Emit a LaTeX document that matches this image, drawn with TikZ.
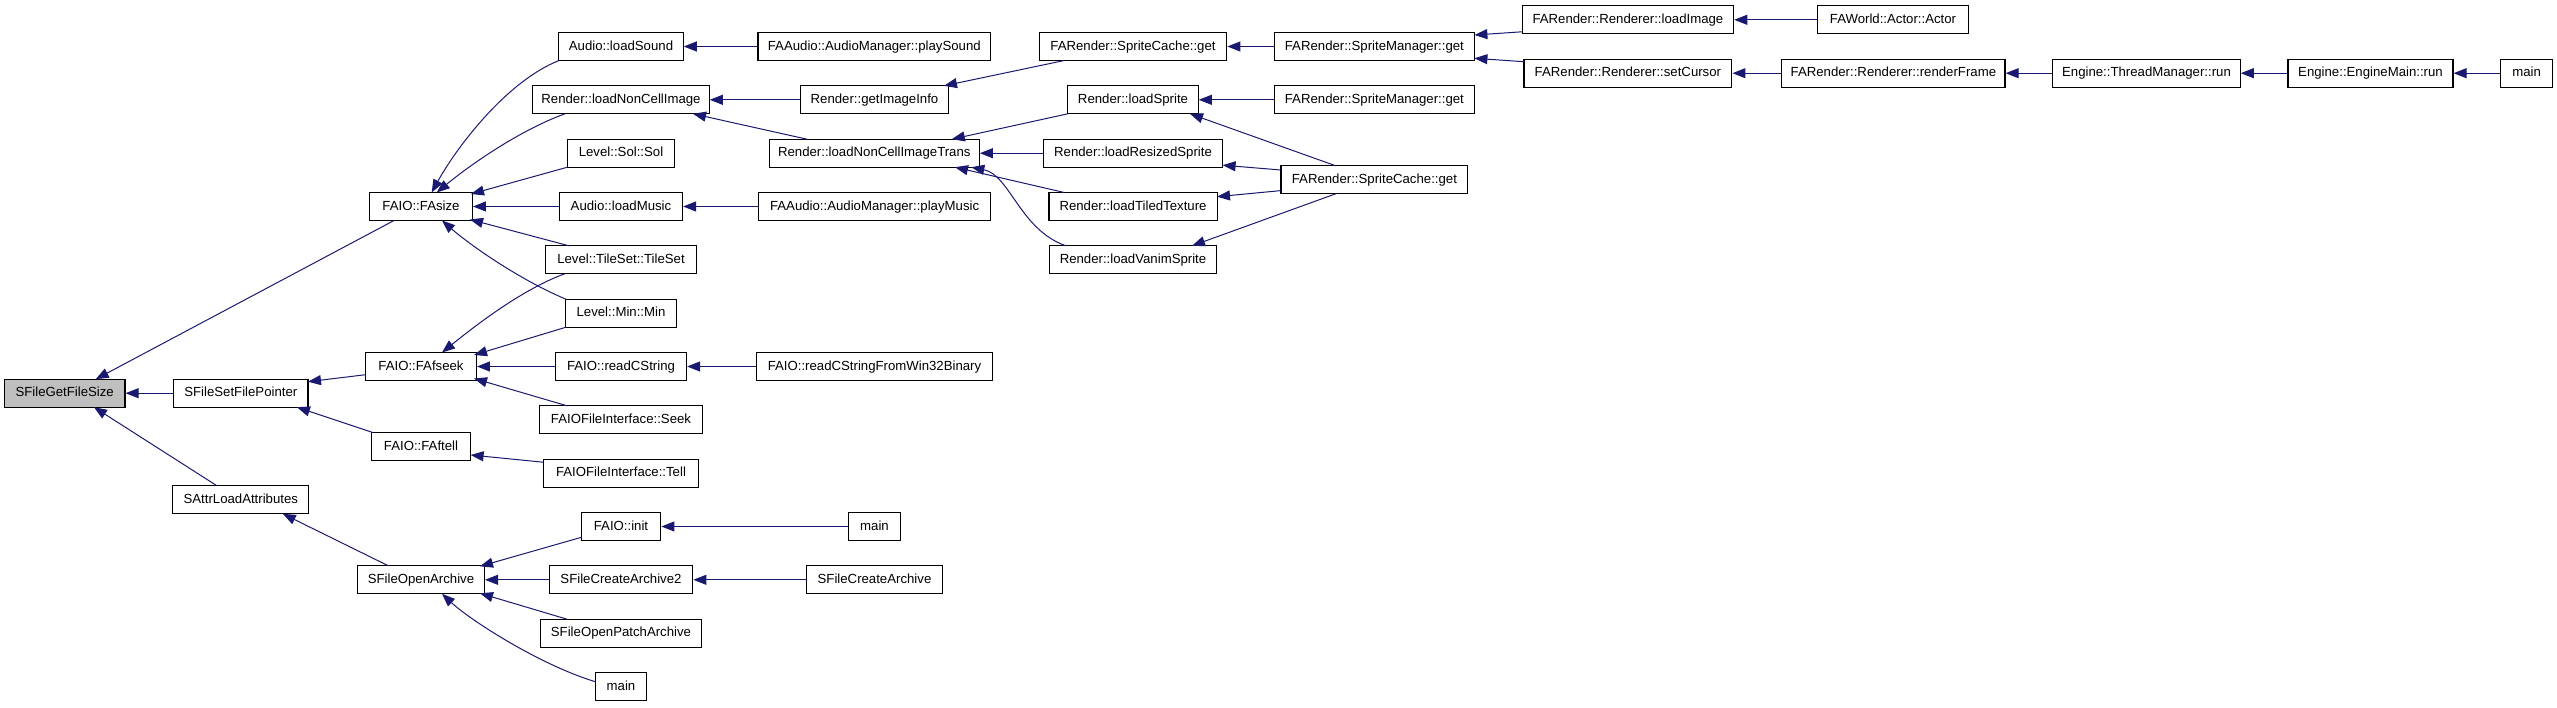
\documentclass[tikz,border=0pt]{standalone}
\usepackage{fontspec}
\setmainfont{Liberation Sans}
\usetikzlibrary{calc,arrows.meta}
\definecolor{edgeblue}{HTML}{191970}
\definecolor{fillgray}{HTML}{BFBFBF}
\begin{document}
\begin{tikzpicture}[x=1pt,y=-1pt,
  fn/.style={draw=black, line width=1.2pt, rectangle, minimum height=28pt, inner sep=0pt,
    text height=9.3pt, text depth=2pt, font=\fontsize{13.2}{15}\selectfont, fill=white},
  ed/.style={draw=edgeblue, line width=1pt, -{Triangle[length=13pt,width=10pt]}, fill=none}]
\useasboundingbox (0,0) rectangle (2557,707);
% column 1-2
\node[fn, fill=fillgray, minimum width=120.5] (gfs) at (64.7,393.2) {SFileGetFileSize};
\node[fn, minimum width=134.3] (sfp) at (240.8,393.2) {SFileSetFilePointer};
\node[fn, minimum width=136] (sla) at (240.8,499.8) {SAttrLoadAttributes};
% column 3
\node[fn, minimum width=102.7] (fasize) at (421,206.5) {FAIO::FAsize};
\node[fn, minimum width=110.7] (fafseek) at (421,366.5) {FAIO::FAfseek};
\node[fn, minimum width=99.6] (faftell) at (421,446.5) {FAIO::FAftell};
\node[fn, minimum width=126.8] (soa) at (421,579.8) {SFileOpenArchive};
% column 4
\node[fn, minimum width=124.3] (als) at (621,46.5) {Audio::loadSound};
\node[fn, minimum width=176.4] (rlnci) at (621,99.8) {Render::loadNonCellImage};
\node[fn, minimum width=107] (sol) at (621,153.2) {Level::Sol::Sol};
\node[fn, minimum width=123] (alm) at (621,206.5) {Audio::loadMusic};
\node[fn, minimum width=151] (tileset) at (621,259.8) {Level::TileSet::TileSet};
\node[fn, minimum width=111] (min) at (621,313.2) {Level::Min::Min};
\node[fn, minimum width=131] (rcs) at (621,366.5) {FAIO::readCString};
\node[fn, minimum width=163.6] (seek) at (621,419.8) {FAIOFileInterface::Seek};
\node[fn, minimum width=155.4] (tell) at (621,473.2) {FAIOFileInterface::Tell};
\node[fn, minimum width=79.6] (init) at (621,526.5) {FAIO::init};
\node[fn, minimum width=143.6] (sca2) at (621,579.8) {SFileCreateArchive2};
\node[fn, minimum width=161.7] (sopa) at (621,633.2) {SFileOpenPatchArchive};
\node[fn, minimum width=51.4] (main1) at (621,686.5) {main};
% column 5
\node[fn, minimum width=232.8] (playsound) at (874.3,46.5) {FAAudio::AudioManager::playSound};
\node[fn, minimum width=148.2] (gii) at (874.5,99.8) {Render::getImageInfo};
\node[fn, minimum width=210] (rlncit) at (874.3,153.2) {Render::loadNonCellImageTrans};
\node[fn, minimum width=231.5] (playmusic) at (874.6,206.5) {FAAudio::AudioManager::playMusic};
\node[fn, minimum width=235.3] (rcsw) at (874.5,366.5) {FAIO::readCStringFromWin32Binary};
\node[fn, minimum width=51.8] (main2) at (874.5,526.5) {main};
\node[fn, minimum width=135.3] (sca) at (874.5,579.8) {SFileCreateArchive};
% column 6
\node[fn, minimum width=187.5] (scget1) at (1133,46.5) {FARender::SpriteCache::get};
\node[fn, minimum width=130.3] (lsprite) at (1133,99.8) {Render::loadSprite};
\node[fn, minimum width=179.3] (lrs) at (1133,153.2) {Render::loadResizedSprite};
\node[fn, minimum width=168.2] (ltt) at (1133,206.5) {Render::loadTiledTexture};
\node[fn, minimum width=167.5] (lvs) at (1133,259.8) {Render::loadVanimSprite};
% column 7
\node[fn, minimum width=199.7] (smget1) at (1374.4,46.5) {FARender::SpriteManager::get};
\node[fn, minimum width=199.7] (smget2) at (1374.4,99.8) {FARender::SpriteManager::get};
\node[fn, minimum width=186.9] (scget2) at (1374.4,179.8) {FARender::SpriteCache::get};
% column 8+
\node[fn, minimum width=211.5] (loadimage) at (1627.9,19.8) {FARender::Renderer::loadImage};
\node[fn, minimum width=207.9] (setcursor) at (1627.9,73.2) {FARender::Renderer::setCursor};
\node[fn, minimum width=151.4] (actor) at (1893,19.8) {FAWorld::Actor::Actor};
\node[fn, minimum width=223.2] (renderframe) at (1893.4,73.2) {FARender::Renderer::renderFrame};
\node[fn, minimum width=187.3] (tmrun) at (2146.5,73.2) {Engine::ThreadManager::run};
\node[fn, minimum width=164.9] (emrun) at (2370.5,73.2) {Engine::EngineMain::run};
\node[fn, minimum width=51.9] (main3) at (2526.6,73.2) {main};

% edges
\draw[ed] (sfp.west) -- (gfs.east);
\draw[ed] ($(fasize)+(-27,14)$) -- ($(gfs)+(31,-14)$);
\draw[ed] ($(sla)+(-23.8,-14)$) -- ($(gfs)+(29.3,14)$);
\draw[ed] ($(fafseek)+(-55.4,8.2)$) -- ($(sfp)+(67.2,-11.5)$);
\draw[ed] ($(faftell)+(-48.2,-14)$) -- ($(sfp)+(56.1,14)$);
\draw[ed] ($(als)+(-62,14)$) .. controls ($(als)+(-116,35.5)$) and ($(fasize)+(34,-56.5)$) .. ($(fasize)+(10.7,-14)$);
\draw[ed] ($(rlnci)+(-56,14)$) .. controls ($(rlnci)+(-101,30.2)$) and ($(fasize)+(49,-41.5)$) .. ($(fasize)+(15.7,-14)$);
\draw[ed] ($(sol)+(-53.6,14)$) -- ($(fasize)+(50,-12.5)$);
\draw[ed] (alm.west) -- (fasize.east);
\draw[ed] ($(tileset)+(-52,-14)$) -- ($(fasize)+(49,13)$);
\draw[ed] ($(min)+(-55,-14)$) .. controls ($(min)+(-101,-33.2)$) and ($(fasize)+(49,38.5)$) .. ($(fasize)+(21,14)$);
\draw[ed] ($(tileset)+(-56.3,14)$) .. controls ($(tileset)+(-101,30.2)$) and ($(fafseek)+(49,-36.5)$) .. ($(fafseek)+(21,-14)$);
\draw[ed] ($(min)+(-55,14)$) -- ($(fafseek)+(53,-11.5)$);
\draw[ed] (rcs.west) -- (fafseek.east);
\draw[ed] ($(seek)+(-54,-14)$) -- ($(fafseek)+(53,12)$);
\draw[ed] ($(tell)+(-77.7,-11)$) -- ($(faftell)+(49.6,8.5)$);
\draw[ed] ($(soa)+(-32.6,-14)$) -- ($(sla)+(42,14)$);
\draw[ed] ($(init)+(-39.6,10.8)$) -- ($(soa)+(59,-13.5)$);
\draw[ed] (sca2.west) -- (soa.east);
\draw[ed] ($(sopa)+(-54,-14)$) -- ($(soa)+(59,13.5)$);
\draw[ed] ($(main1)+(-25.7,-4.8)$) .. controls ($(main1)+(-81,-21.5)$) and ($(soa)+(49,40.2)$) .. ($(soa)+(21,14)$);
\draw[ed] (playsound.west) -- (als.east);
\draw[ed] (gii.west) -- (rlnci.east);
\draw[ed] ($(rlncit)+(-67.3,-14)$) -- ($(rlnci)+(72,14)$);
\draw[ed] (playmusic.west) -- (alm.east);
\draw[ed] (rcsw.west) -- (rcs.east);
\draw[ed] (main2.west) -- (init.east);
\draw[ed] (sca.west) -- (sca2.east);
\draw[ed] ($(scget1)+(-68.7,14)$) -- ($(gii)+(69.5,-14)$);
\draw[ed] ($(lsprite)+(-65.2,14)$) -- ($(rlncit)+(77.5,-14)$);
\draw[ed] (lrs.west) -- (rlncit.east);
\draw[ed] ($(ltt)+(-68.7,-14)$) -- ($(rlncit)+(80.7,14)$);
\draw[ed] ($(lvs)+(-67,-14)$) .. controls ($(lvs)+(-113,-29.8)$) and ($(rlncit)+(135.7,21.8)$) .. ($(rlncit)+(97,14)$);
\draw[ed] (smget1.west) -- (scget1.east);
\draw[ed] (smget2.west) -- (lsprite.east);
\draw[ed] ($(scget2)+(-38.7,-14)$) -- ($(lsprite)+(57,14)$);
\draw[ed] ($(scget2)+(-93.4,-9.8)$) -- ($(lrs)+(89.6,12)$);
\draw[ed] ($(scget2)+(-93.4,10.8)$) -- ($(ltt)+(84,-9.8)$);
\draw[ed] ($(scget2)+(-38.7,14)$) -- ($(lvs)+(59,-14)$);
\draw[ed] ($(loadimage)+(-105.8,12)$) -- ($(smget1)+(100,-11.5)$);
\draw[ed] ($(setcursor)+(-104,-11.5)$) -- ($(smget1)+(100,11.8)$);
\draw[ed] (actor.west) -- (loadimage.east);
\draw[ed] (renderframe.west) -- (setcursor.east);
\draw[ed] (tmrun.west) -- (renderframe.east);
\draw[ed] (emrun.west) -- (tmrun.east);
\draw[ed] (main3.west) -- (emrun.east);
\end{tikzpicture}
\end{document}
